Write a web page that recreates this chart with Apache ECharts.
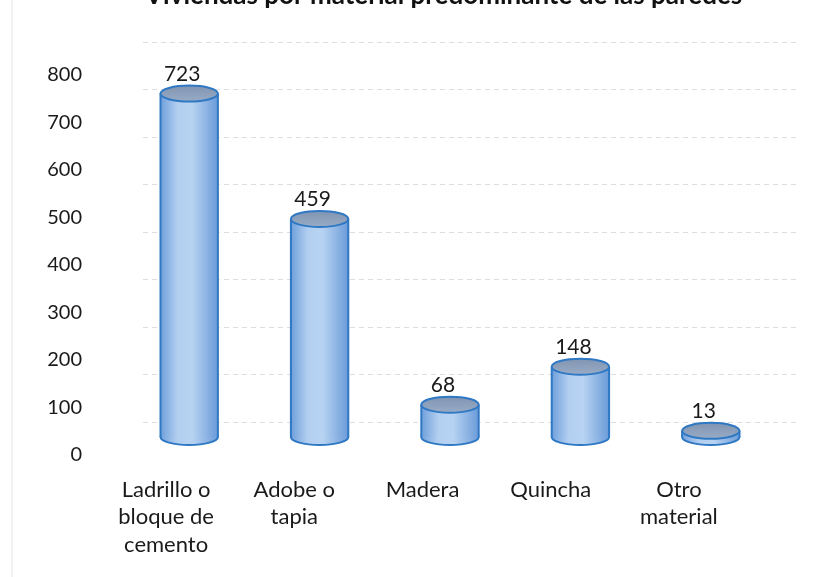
<!DOCTYPE html>
<html>
<head>
<meta charset="utf-8">
<script src="https://cdn.jsdelivr.net/npm/echarts@6/dist/echarts.min.js"></script>
<style>
html, body { margin: 0; padding: 0; background: #fff; }
#chart { width: 833px; height: 577px; }
</style>
</head>
<body>
<div id="chart"></div>
<script>
const titleText = "Viviendas por material predominante de las paredes"
const categories = ["Ladrillo o\nbloque de\ncemento", "Adobe o\ntapia", "Madera", "Quincha", "Otro\nmaterial"]
const values = [723, 459, 68, 148, 13]
const yMin = 0
const yMax = 800
const yStep = 100

const font = "Lato, 'Open Sans', sans-serif"
const chart = echarts.init(document.getElementById("chart"), null, { renderer: "canvas" })

function renderCylinder(params, api) {
    const idx = api.value(0)
    const top = api.coord([idx, api.value(1)])
    const base = api.coord([idx, 0])
    const bandW = api.size([1, 0])[0]
    const rx = bandW * 0.22
    const ry = 8
    const cx = top[0]
    const bodyFill = new echarts.graphic.LinearGradient(0, 0, 1, 0, [
        { offset: 0, color: "#6f9fdb" },
        { offset: 0.3, color: "#b3cff0" },
        { offset: 0.55, color: "#b8d3f2" },
        { offset: 1, color: "#6a9bd8" },
    ])
    const stroke = "#2f78c4"
    return {
        type: "group",
        children: [
            {
                type: "ellipse",
                shape: { cx: cx, cy: base[1], rx: rx, ry: ry },
                style: { fill: bodyFill, stroke: stroke, lineWidth: 2 },
            },
            {
                type: "rect",
                shape: { x: cx - rx, y: top[1], width: rx * 2, height: base[1] - top[1] },
                style: { fill: bodyFill },
            },
            {
                type: "line",
                shape: { x1: cx - rx, y1: top[1], x2: cx - rx, y2: base[1] },
                style: { stroke: stroke, lineWidth: 2 },
            },
            {
                type: "line",
                shape: { x1: cx + rx, y1: top[1], x2: cx + rx, y2: base[1] },
                style: { stroke: stroke, lineWidth: 2 },
            },
            {
                type: "ellipse",
                shape: { cx: cx, cy: top[1], rx: rx, ry: ry },
                style: {
                    fill: new echarts.graphic.LinearGradient(0, 0, 0, 1, [
                        { offset: 0, color: "#7f93b0" },
                        { offset: 1, color: "#9aadc7" },
                    ]),
                    stroke: stroke,
                    lineWidth: 2,
                },
            },
            {
                type: "text",
                style: {
                    x: cx - 7,
                    y: top[1] - ry - 1,
                    text: String(api.value(1)),
                    fill: "#1a1a1a",
                    font: "21px " + font,
                    align: "center",
                    verticalAlign: "bottom",
                },
            },
        ],
    }
}

const option = {
    backgroundColor: "#ffffff",
    animation: false,
    title: {
        text: titleText,
        left: 140,
        top: -22,
        textStyle: { fontFamily: font, fontSize: 26, fontWeight: "bold", color: "#111" },
    },
    graphic: [
        {
            type: "line",
            shape: { x1: 12, y1: 0, x2: 12, y2: 577 },
            style: { stroke: "#e4e4e4", lineWidth: 1 },
        },
    ],
    grid: [
        { left: 102, right: 90, top: 75, bottom: 122 },
        { left: 143, right: 35, top: 42, bottom: 155 },
        { left: 124, right: 57, top: 57, bottom: 140 },
    ],
    xAxis: [
        {
            gridIndex: 0,
            type: "category",
            data: categories,
            axisLine: { show: false },
            axisTick: { show: false },
            axisLabel: {
                margin: 21,
                interval: 0,
                fontFamily: font,
                fontSize: 22,
                lineHeight: 27.5,
                color: "#1a1a1a",
            },
        },
        { gridIndex: 1, type: "category", data: categories, show: false },
        { gridIndex: 2, type: "category", data: categories, show: false },
    ],
    yAxis: [
        {
            gridIndex: 0,
            type: "value",
            min: yMin,
            max: yMax,
            interval: yStep,
            axisLine: { show: false },
            axisTick: { show: false },
            splitLine: { show: false },
            axisLabel: { margin: 20, fontFamily: font, fontSize: 20, color: "#1a1a1a" },
        },
        {
            gridIndex: 1,
            type: "value",
            min: yMin,
            max: yMax,
            interval: yStep,
            axisLine: { show: false },
            axisTick: { show: false },
            axisLabel: { show: false },
            splitLine: { lineStyle: { color: "#dedede", type: [5, 4], width: 1 } },
        },
        { gridIndex: 2, type: "value", min: yMin, max: yMax, show: false },
    ],
    series: [
        {
            type: "custom",
            xAxisIndex: 2,
            yAxisIndex: 2,
            renderItem: renderCylinder,
            data: values.map((v, i) => [i, v]),
            z: 5,
        },
    ],
}
chart.setOption(option)
</script>
</body>
</html>
